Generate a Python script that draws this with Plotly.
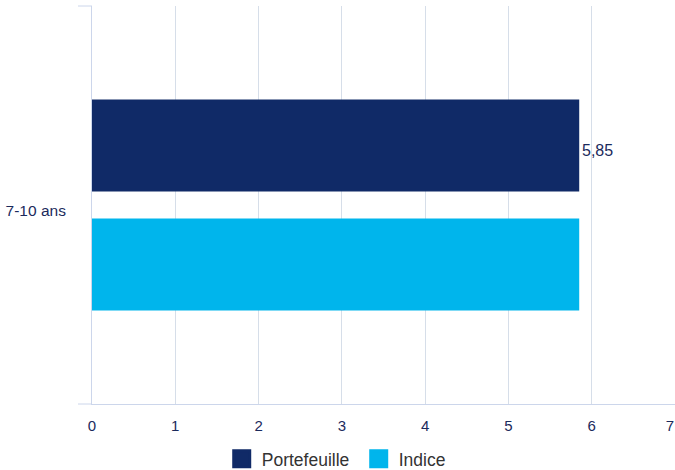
import plotly.graph_objects as go

# Data
categories = ["7-10 ans"]
portefeuille = [5.85]
indice = [5.85]
x_ticks = [0, 1, 2, 3, 4, 5, 6, 7]

NAVY = "#102a67"
CYAN = "#00b5ec"
LABEL = "#1b2a5c"
GRID = "#d6dee9"
AXIS = "#ccd6eb"
FONT = "Liberation Sans, Arial, sans-serif"

BARGAP = 0.402
BARGROUPGAP = 0.227

fig = go.Figure()

fig.add_trace(go.Bar(
    name="Portefeuille", y=categories, x=portefeuille, orientation="h",
    marker=dict(color=NAVY, line=dict(width=0)),
    showlegend=False,
))
fig.add_trace(go.Bar(
    name="Indice", y=categories, x=indice, orientation="h",
    marker=dict(color=CYAN, line=dict(width=0)),
    showlegend=False,
))

# value label at the end of the Portefeuille bar
slot = (1 - BARGAP) / 2
fig.add_annotation(
    x=portefeuille[0], y=-slot / 2, xref="x", yref="y",
    text=f"{portefeuille[0]:.2f}".replace(".", ","),
    showarrow=False, xanchor="left", yanchor="middle", xshift=1, yshift=-5,
    font=dict(family=FONT, size=16, color=LABEL),
)

# legend entries with larger square swatches
for name, color in [("Portefeuille", NAVY), ("Indice", CYAN)]:
    fig.add_trace(go.Scatter(
        x=[None], y=[None], mode="markers", name=name,
        marker=dict(symbol="square", size=16, color=color,
                    line=dict(color=color, width=3)),
    ))

main_ticks = x_ticks[:-1]
last_tick = x_ticks[-1:]

fig.update_layout(
    width=675, height=470,
    margin=dict(l=92, r=0, t=6, b=66, autoexpand=False),
    paper_bgcolor="white", plot_bgcolor="white",
    barmode="group", bargap=BARGAP, bargroupgap=BARGROUPGAP,
    separators=", ",
    font=dict(family=FONT, color=LABEL),
    xaxis=dict(
        range=[0, 7], tickvals=main_ticks, ticktext=[str(v) for v in main_ticks],
        showgrid=True, gridcolor=GRID, gridwidth=1, zeroline=False,
        showline=True, linecolor=AXIS, linewidth=1,
        ticks="", ticklabelstandoff=8,
        tickfont=dict(family=FONT, size=15, color=LABEL),
    ),
    xaxis2=dict(
        overlaying="x", matches="x", anchor="y", side="bottom", range=[0, 7],
        tickvals=last_tick, ticktext=[str(v) for v in last_tick],
        showgrid=False, zeroline=False, showline=False,
        ticks="", ticklabelstandoff=11, ticklabelshift=-5,
        tickfont=dict(family=FONT, size=15, color=LABEL),
    ),
    yaxis=dict(
        autorange="reversed", showgrid=False, zeroline=False,
        showline=True, linecolor=AXIS, linewidth=1,
        ticks="", ticklabelstandoff=22, ticklabelshift=-6,
        tickfont=dict(family=FONT, size=15.5, color=LABEL),
    ),
    legend=dict(
        orientation="h", x=0.4575, xanchor="center", y=-0.138, yanchor="middle",
        font=dict(family=FONT, size=17.5, color="#333333"),
        itemsizing="trace", bgcolor="rgba(0,0,0,0)",
        entrywidth=92,
    ),
)

# dummy trace to render the x2 axis labels
fig.add_trace(go.Scatter(x=[None], y=[None], xaxis="x2", showlegend=False,
                         hoverinfo="skip"))

# category-boundary tick marks on the left axis
for yv in (0, 1):
    fig.add_shape(type="line", xref="paper", yref="y domain",
                  x0=-14 / 583, x1=0, y0=yv, y1=yv,
                  line=dict(color=AXIS, width=1))

fig.write_html("out.html")
